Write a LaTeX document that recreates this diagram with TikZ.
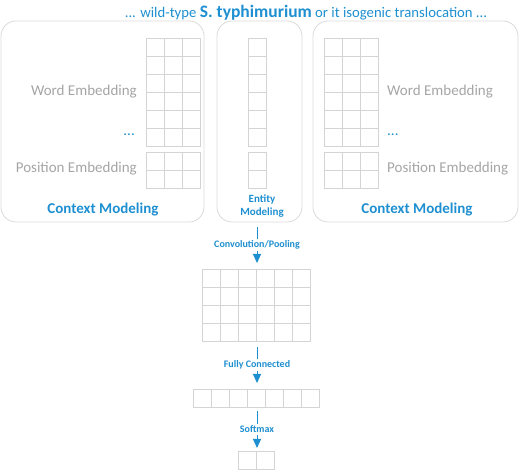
\documentclass[tikz,border=0pt]{standalone}
\usepackage{fontspec}
\setmainfont{Carlito}
\usetikzlibrary{arrows.meta}
\definecolor{myblue}{HTML}{1E8FD0}
\definecolor{mygray}{HTML}{A5A5A5}
\definecolor{cellline}{HTML}{D4D4D4}
\definecolor{boxline}{HTML}{DADADA}
\tikzset{
  panel/.style={draw=boxline, line width=0.8pt, rounded corners=15pt},
  cellbox/.style={draw=cellline, line width=0.7pt},
  graytext/.style={text=mygray, font=\fontsize{15}{18}\selectfont, inner sep=0pt},
  bluebold/.style={text=myblue, font=\fontsize{15}{18}\selectfont\bfseries, inner sep=0pt},
  smallblue/.style={text=myblue, font=\fontsize{10}{12}\selectfont\bfseries, inner sep=1.5pt, fill=white},
  flow/.style={draw=myblue, line width=1pt, -{Triangle[length=9pt,width=8pt]}},
  gridanchor/.style={inner sep=0pt, outer sep=0pt, anchor=north west},
}
\newcommand{\cellgrid}[5]{% x y cols rows name
  \node[gridanchor, minimum width=#3*18pt, minimum height=#4*18pt] (#5) at (#1,#2) {};
  \foreach \ci in {1,...,#3}{\foreach \cj in {1,...,#4}{
    \draw[cellbox] ({#1+(\ci-1)*18},{#2+(\cj-1)*18}) rectangle ++(18,18);}}
}
\begin{document}
\begin{tikzpicture}[x=1pt,y=-1pt]
\useasboundingbox (0,0) rectangle (520,470);
% title
\node[text=myblue, inner sep=0pt, font=\fontsize{14.7}{18}\selectfont] (title) at (306,13)
  {... wild-type {\fontsize{17.5}{21}\selectfont\bfseries S. typhimurium} or it isogenic translocation ...};
% panels
\draw[panel] (1,21) rectangle (204,222);
\draw[panel] (217,21) rectangle (302,222);
\draw[panel] (313,21) rectangle (518,222);
\node[inner sep=0pt] (mid) at (259.5,222) {};
% left grids
\cellgrid{146}{38}{3}{6}{lw}
\cellgrid{146}{152}{3}{2}{lp}
\node[graytext, anchor=east] (lwt) at (137,92) {Word Embedding};
\node[text=myblue, inner sep=0pt, anchor=east, font=\fontsize{15}{18}\selectfont] (ldots) at (135,135) {...};
\node[graytext, anchor=east] (lpt) at (137,169) {Position Embedding};
\node[bluebold] (lcm) at (103,210) {Context Modeling};
% middle grids
\cellgrid{248}{38}{1}{6}{mw}
\cellgrid{248}{152}{1}{2}{mp}
\node[text=myblue, font=\fontsize{11}{13}\selectfont\bfseries, align=center, inner sep=0pt] (ent) at (262,206) {Entity\\Modeling};
% right grids
\cellgrid{324}{38}{3}{6}{rw}
\cellgrid{324}{152}{3}{2}{rp}
\node[graytext, anchor=west] (rwt) at (387,92) {Word Embedding};
\node[text=myblue, inner sep=0pt, anchor=west, font=\fontsize{15}{18}\selectfont] (rdots) at (387,135) {...};
\node[graytext, anchor=west] (rpt) at (387,169) {Position Embedding};
\node[bluebold] (rcm) at (417,210) {Context Modeling};
% lower grids
\cellgrid{202}{269}{6}{4}{conv}
\cellgrid{193}{389}{7}{1}{fc}
\cellgrid{238}{451}{2}{1}{soft}
% arrows
\coordinate (a1s) at (257,227);
\coordinate (a1e) at (257,263);
\draw[flow] (a1s) -- node[smallblue] {Convolution/Pooling} (a1e);
\coordinate (a2s) at (257,347);
\coordinate (a2e) at (257,383);
\draw[flow] (a2s) -- node[smallblue] {Fully Connected} (a2e);
\coordinate (a3s) at (257,411);
\coordinate (a3e) at (257,448);
\draw[flow] (a3s) -- node[smallblue] {Softmax} (a3e);
\end{tikzpicture}
\end{document}
